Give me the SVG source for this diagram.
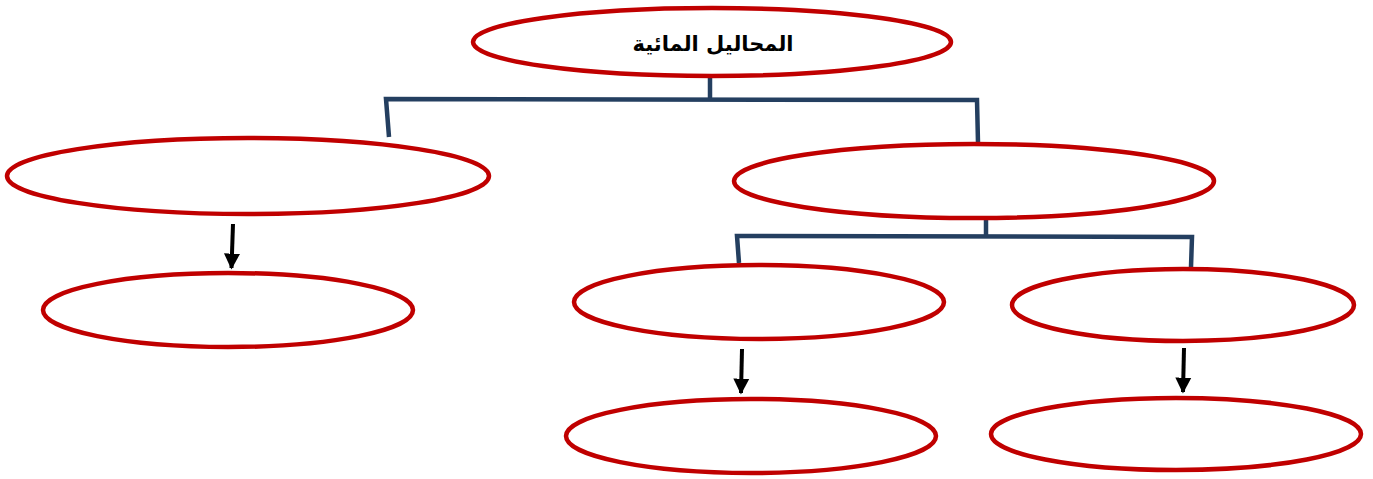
<svg xmlns="http://www.w3.org/2000/svg" width="1373" height="479" viewBox="0 0 1373 479">
<defs>
<marker id="ah" viewBox="0 0 10 10" refX="9" refY="5" markerWidth="4" markerHeight="4.5" orient="auto" markerUnits="strokeWidth">
<path d="M0,0 L10,5 L0,10 z" fill="#000"/>
</marker>
<style>
.n{fill:#fff;stroke:#C00000;stroke-width:4.5}
.c{fill:none;stroke:#243F60;stroke-width:4.5;stroke-linejoin:miter}
.a{stroke:#000;stroke-width:4;fill:none}
.t{font-family:"DejaVu Sans",sans-serif;font-weight:bold;font-size:21px;fill:#000}
</style>
</defs>
<rect width="1373" height="479" fill="#fff"/>
<g id="connectors">
<path class="c" d="M710,78 L710,99"/>
<path class="c" d="M389,137 L386,99 L977,100 L978,143"/>
<path class="c" d="M986,219 L986,236"/>
<path class="c" d="M739,263 L737,236 L1192,237 L1191,267"/>
<line class="a" x1="233" y1="224" x2="231.5" y2="268" marker-end="url(#ah)"/>
<line class="a" x1="742" y1="349" x2="741" y2="393" marker-end="url(#ah)"/>
<line class="a" x1="1184" y1="348" x2="1183" y2="392" marker-end="url(#ah)"/>
</g>
<g id="root"><ellipse class="n" cx="712" cy="42" rx="239" ry="34"/>
<text class="t" x="713" y="51" text-anchor="middle" direction="rtl">المحاليل المائية</text></g>
<g id="n1"><ellipse class="n" cx="248" cy="176" rx="241" ry="38"/></g>
<g id="n2"><ellipse class="n" cx="974" cy="181" rx="240" ry="37"/></g>
<g id="n3"><ellipse class="n" cx="228" cy="310" rx="185" ry="37"/></g>
<g id="n4"><ellipse class="n" cx="759" cy="302" rx="185" ry="37"/></g>
<g id="n5"><ellipse class="n" cx="1183" cy="305" rx="171" ry="36"/></g>
<g id="n6"><ellipse class="n" cx="751" cy="436" rx="185" ry="37"/></g>
<g id="n7"><ellipse class="n" cx="1176" cy="434" rx="185" ry="36"/></g>
</svg>
